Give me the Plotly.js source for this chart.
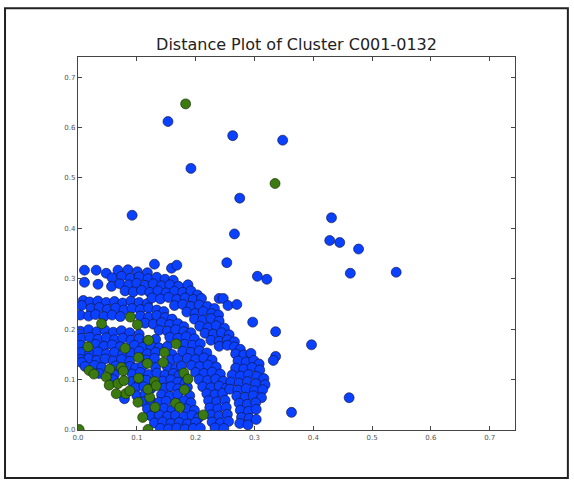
<!DOCTYPE html>
<html>
<head>
<meta charset="utf-8">
<script src="https://cdn.plot.ly/plotly-3.0.1.min.js"></script>
<style>
  html, body { margin: 0; padding: 0; background: #ffffff; }
  #chart { width: 574px; height: 483px; }
</style>
</head>
<body>
<div id="chart"></div>
<script>
// ---- Data ----
const chartTitle = "Distance Plot of Cluster C001-0132";
const tickValues = [0.0, 0.1, 0.2, 0.3, 0.4, 0.5, 0.6, 0.7];
const tickLabels = ["0.0", "0.1", "0.2", "0.3", "0.4", "0.5", "0.6", "0.7"];

// isolated blue points
const blueOutliers = [
  [0.153,0.612],[0.263,0.584],[0.348,0.575],[0.192,0.519],[0.275,0.460],[0.092,0.426],
  [0.431,0.421],[0.266,0.389],[0.428,0.376],[0.445,0.372],[0.477,0.359],[0.253,0.332],
  [0.130,0.329],[0.159,0.321],[0.168,0.327],[0.305,0.305],[0.321,0.299],[0.463,0.311],
  [0.541,0.313],[0.240,0.261],[0.247,0.261],[0.255,0.247],[0.270,0.249],[0.297,0.214],
  [0.336,0.195],[0.397,0.169],[0.336,0.146],[0.332,0.138],[0.363,0.035],[0.461,0.064]
];

// outer band of the dense cluster
const blueBandA = [
  [0.011,0.317],[0.031,0.317],[0.048,0.311],[0.068,0.317],[0.085,0.318],[0.101,0.314],[0.118,0.312],
  [0.058,0.302],[0.074,0.305],[0.089,0.301],[0.104,0.304],[0.119,0.300],[0.134,0.303],[0.148,0.299],[0.162,0.297],
  [0.011,0.293],[0.034,0.289],[0.057,0.285],[0.071,0.290],[0.086,0.288],[0.100,0.291],[0.114,0.287],[0.128,0.290],[0.142,0.286],[0.156,0.288],[0.171,0.285],[0.187,0.288],
  [0.080,0.276],[0.094,0.274],[0.108,0.277],[0.122,0.273],[0.136,0.276],[0.150,0.272],[0.164,0.275],[0.178,0.273],[0.192,0.276],[0.203,0.268],
  [0.126,0.262],[0.140,0.260],[0.154,0.263],[0.168,0.259],[0.182,0.262],[0.196,0.259],[0.210,0.261],
  [0.164,0.247],[0.178,0.249],[0.192,0.245],[0.206,0.248],[0.220,0.245],[0.232,0.241],
  [0.185,0.234],[0.199,0.231],[0.213,0.235],[0.227,0.231],[0.239,0.228],
  [0.198,0.220],[0.212,0.218],[0.226,0.221],[0.240,0.216],
  [0.207,0.206],[0.221,0.203],[0.235,0.207],[0.249,0.202],
  [0.216,0.192],[0.230,0.190],[0.244,0.193],[0.257,0.189],
  [0.226,0.178],[0.240,0.176],[0.254,0.179],[0.266,0.175],
  [0.240,0.166],[0.254,0.168],[0.266,0.165],[0.276,0.160],
  [0.268,0.151],[0.282,0.149],[0.294,0.152],
  [0.272,0.137],[0.286,0.135],[0.299,0.138],[0.308,0.131],
  [0.268,0.123],[0.282,0.121],[0.296,0.124],[0.309,0.119],
  [0.262,0.109],[0.276,0.107],[0.290,0.110],[0.304,0.106],[0.316,0.102],
  [0.260,0.095],[0.274,0.093],[0.288,0.096],[0.302,0.092],[0.318,0.090],
  [0.258,0.081],[0.272,0.079],[0.286,0.082],[0.300,0.078],[0.314,0.080],
  [0.270,0.067],[0.284,0.065],[0.298,0.068],[0.312,0.064],
  [0.274,0.053],[0.288,0.051],[0.302,0.054],
  [0.276,0.039],[0.290,0.037],[0.303,0.041],
  [0.278,0.025],[0.291,0.023],[0.303,0.021],
  [0.275,0.013],[0.289,0.010]
];

// middle band
const blueBandB = [
  [0.009,0.257],[0.020,0.254],[0.034,0.256],[0.048,0.253],[0.062,0.255],[0.076,0.252],[0.090,0.256],[0.104,0.253],[0.118,0.251],
  [0.006,0.247],[0.022,0.241],[0.036,0.243],[0.050,0.239],[0.064,0.242],[0.078,0.238],[0.092,0.241],[0.106,0.239],[0.120,0.242],[0.134,0.238],[0.146,0.235],
  [0.004,0.228],[0.018,0.226],[0.030,0.229],[0.044,0.225],[0.058,0.228],[0.072,0.225],[0.106,0.226],[0.120,0.224],[0.134,0.227],[0.148,0.223],[0.160,0.220],
  [0.114,0.212],[0.128,0.210],[0.142,0.213],[0.156,0.209],[0.170,0.211],[0.180,0.205],
  [0.138,0.198],[0.152,0.196],[0.166,0.199],[0.180,0.195],[0.192,0.193],
  [0.156,0.184],[0.170,0.182],[0.184,0.185],[0.198,0.181],
  [0.181,0.170],[0.195,0.168],[0.208,0.171],
  [0.178,0.156],[0.192,0.154],[0.206,0.157],[0.219,0.153],
  [0.186,0.142],[0.200,0.140],[0.214,0.143],[0.228,0.139],
  [0.193,0.128],[0.207,0.126],[0.221,0.129],[0.235,0.125],
  [0.200,0.114],[0.214,0.112],[0.228,0.115],[0.242,0.111],
  [0.206,0.100],[0.220,0.098],[0.234,0.101],[0.247,0.097],
  [0.212,0.086],[0.226,0.084],[0.240,0.087],[0.252,0.083],
  [0.219,0.072],[0.233,0.070],[0.246,0.073],
  [0.222,0.058],[0.236,0.056],[0.250,0.059],
  [0.224,0.044],[0.238,0.042],[0.252,0.045],
  [0.226,0.030],[0.240,0.028],[0.254,0.031],
  [0.228,0.016],[0.242,0.014],[0.256,0.017],
  [0.233,0.004],[0.248,0.003]
];

// inner (lower) band
const blueBandC = [
  [0.004,0.196],[0.018,0.199],[0.032,0.195],[0.046,0.198],[0.060,0.194],[0.074,0.197],[0.088,0.193],[0.104,0.190],
  [0.006,0.182],[0.020,0.184],[0.034,0.180],[0.048,0.183],[0.062,0.179],[0.076,0.182],[0.090,0.178],[0.104,0.181],[0.118,0.177],[0.132,0.180],
  [0.004,0.168],[0.030,0.170],[0.044,0.166],[0.058,0.169],[0.072,0.165],[0.096,0.168],[0.110,0.164],[0.124,0.167],[0.138,0.163],[0.152,0.166],
  [0.006,0.154],[0.020,0.152],[0.034,0.155],[0.048,0.151],[0.062,0.154],[0.076,0.150],[0.090,0.153],[0.104,0.156],[0.118,0.151],[0.132,0.154],[0.160,0.150],
  [0.004,0.140],[0.018,0.142],[0.032,0.138],[0.046,0.141],[0.060,0.137],[0.074,0.140],[0.088,0.136],[0.116,0.139],[0.130,0.142],[0.158,0.139],[0.170,0.142],
  [0.006,0.134],[0.012,0.126],[0.028,0.128],[0.040,0.124],[0.064,0.127],[0.088,0.126],[0.098,0.123],[0.110,0.127],[0.132,0.124],[0.152,0.125],[0.166,0.122],[0.176,0.127],
  [0.036,0.112],[0.062,0.110],[0.092,0.111],[0.106,0.114],[0.120,0.110],[0.134,0.113],[0.148,0.109],[0.162,0.112],[0.172,0.108],
  [0.060,0.100],[0.092,0.096],[0.104,0.092],[0.116,0.099],[0.144,0.097],[0.158,0.100],[0.170,0.095],[0.182,0.092],
  [0.098,0.084],[0.112,0.086],[0.124,0.082],[0.146,0.083],[0.158,0.086],[0.170,0.082],[0.186,0.085],
  [0.100,0.068],[0.114,0.071],[0.142,0.070],[0.156,0.067],[0.170,0.071],[0.190,0.068],
  [0.079,0.062],[0.112,0.056],[0.124,0.058],[0.138,0.055],[0.150,0.057],[0.180,0.058],[0.192,0.054],
  [0.118,0.042],[0.132,0.040],[0.146,0.043],[0.160,0.040],[0.184,0.042],[0.198,0.039],
  [0.124,0.028],[0.138,0.030],[0.152,0.027],[0.166,0.029],[0.180,0.026],[0.194,0.029],[0.205,0.024],
  [0.130,0.014],[0.144,0.016],[0.158,0.013],[0.172,0.015],[0.186,0.012],[0.200,0.015],
  [0.140,0.003],[0.154,0.002],[0.168,0.004],[0.182,0.002],[0.196,0.003],[0.208,0.004]
];

// green points
const greenPts = [
  [0.183,0.647],[0.335,0.489],[0.002,0.001],[0.119,0.001],[0.040,0.211],[0.089,0.224],
  [0.101,0.209],[0.120,0.178],[0.017,0.165],[0.080,0.162],[0.147,0.154],[0.103,0.144],
  [0.145,0.134],[0.118,0.132],[0.074,0.124],[0.054,0.121],[0.077,0.117],[0.019,0.118],
  [0.027,0.111],[0.048,0.105],[0.103,0.103],[0.053,0.089],[0.068,0.092],[0.078,0.098],
  [0.081,0.072],[0.088,0.078],[0.065,0.072],[0.102,0.055],[0.122,0.065],[0.119,0.081],
  [0.130,0.096],[0.133,0.088],[0.131,0.045],[0.110,0.025],[0.166,0.053],[0.173,0.045],
  [0.181,0.080],[0.180,0.113],[0.187,0.101],[0.167,0.171],[0.213,0.030]
];

// ---- Build traces ----
const blueAll = blueBandC.concat(blueBandB, blueBandA, blueOutliers);
const blueX = blueAll.map(p => p[0]);
const blueY = blueAll.map(p => p[1]);
const greenX = greenPts.map(p => p[0]);
const greenY = greenPts.map(p => p[1]);

const traces = [
  {
    type: 'scatter', mode: 'markers', x: blueX, y: blueY, hoverinfo: 'skip',
    marker: { size: 10, color: '#0a40ff', line: { color: '#101030', width: 0.6 } }
  },
  {
    type: 'scatter', mode: 'markers', x: greenX, y: greenY, hoverinfo: 'skip',
    marker: { size: 10, color: '#3a7a10', line: { color: '#112200', width: 0.6 } }
  }
];

const axisCommon = {
  showgrid: false, zeroline: false, showline: true, linecolor: '#444', linewidth: 1.2,
  mirror: 'allticks', ticks: 'inside', ticklen: 4, tickcolor: '#444', tickwidth: 1,
  tickvals: tickValues, ticktext: tickLabels,
  tickfont: { family: 'DejaVu Sans, sans-serif', size: 7, color: '#555' }
};

const layout = {
  width: 574, height: 483,
  margin: { l: 78, r: 59, t: 57, b: 53 },
  paper_bgcolor: '#ffffff', plot_bgcolor: '#ffffff',
  showlegend: false,
  title: {
    text: chartTitle, x: 0.5, xref: 'paper', xanchor: 'center',
    y: 0.909, yref: 'container', yanchor: 'middle',
    font: { family: 'DejaVu Sans, sans-serif', size: 16, color: '#222' }
  },
  xaxis: Object.assign({}, axisCommon, { range: [0, 0.743] }),
  yaxis: Object.assign({}, axisCommon, { range: [0, 0.740] }),
  shapes: [
    { type: 'rect', xref: 'paper', yref: 'paper',
      x0: -0.167, x1: 1.121, y0: -0.129, y1: 1.131,
      line: { color: '#222', width: 2 }, fillcolor: 'rgba(0,0,0,0)', layer: 'below' }
  ]
};

Plotly.newPlot('chart', traces, layout, { displayModeBar: false, staticPlot: true });
</script>
</body>
</html>
